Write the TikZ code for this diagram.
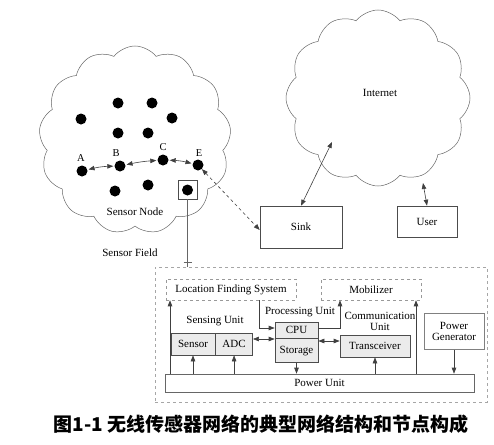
\documentclass[tikz,border=0pt]{standalone}
\usepackage{fontspec}
\setmainfont{Liberation Serif}
\newfontfamily\cjk{Noto Sans CJK SC}
\usetikzlibrary{shapes.symbols,arrows.meta}
\tikzset{
  ln/.style={draw=black!75, line width=0.6pt},
  tipend/.style={ln, -{Triangle[length=6pt,width=4.5pt]}},
  dbl/.style={ln, {Triangle[length=6pt,width=4.5pt]}-{Triangle[length=6pt,width=4.5pt]}},
  sdot/.style={circle, fill=black, inner sep=0pt, minimum size=11pt},
  dlabel/.style={font=\fontsize{10.5}{10}\selectfont, inner sep=0pt},
  lbl/.style={font=\fontsize{11}{11.5}\selectfont, inner sep=0pt, align=center},
  cloudy/.style={cloud, cloud puffs=13, cloud puff arc=105, aspect=1, draw=black!60, line width=0.5pt, inner sep=0pt},
  plainbox/.style={draw=black!70, line width=0.6pt, inner sep=0pt, font=\fontsize{11}{11.5}\selectfont},
  unitbox/.style={plainbox, fill=black!8},
  dbox/.style={draw=black!40, dashed, line width=0.5pt, inner sep=0pt, font=\fontsize{11}{11.5}\selectfont},
}
\begin{document}
\begin{tikzpicture}[x=1pt,y=-1pt]
\useasboundingbox (0,0) rectangle (494,444);

% clouds
\node[cloudy, minimum width=192pt, minimum height=188pt] (field) at (135,140) {};
\node[cloudy, cloud puffs=12, shape border rotate=10, minimum width=184pt, minimum height=176pt] (inet) at (378,98) {};
\node[lbl] (inetlbl) at (380,93) {Internet};

% sensor nodes
\node[sdot] (d1) at (118,103) {};
\node[sdot] (d2) at (152,103) {};
\node[sdot] (d3) at (81,119) {};
\node[sdot] (d4) at (172,118) {};
\node[sdot] (d5) at (118,133) {};
\node[sdot] (d6) at (148,133) {};
\node[sdot] (A) at (82,171) {};
\node[sdot] (B) at (120,166) {};
\node[sdot] (C) at (163,160) {};
\node[sdot] (E) at (198,165) {};
\node[sdot] (d7) at (115,191) {};
\node[sdot] (d8) at (148,185) {};
\node[draw=black!70, line width=0.6pt, minimum size=19pt, inner sep=0pt] (sel) at (187.5,189.5) {};
\node[sdot] (d9) at (187.5,190) {};

\node[dlabel] (la) at (81,158) {A};
\node[dlabel] (lb) at (116,153) {B};
\node[dlabel] (lc) at (163,147) {C};
\node[dlabel] (le) at (199,153) {E};

\draw[dbl, shorten <=1pt, shorten >=1pt] (A) to[bend left=6] (B);
\draw[dbl, shorten <=1pt, shorten >=1pt] (B) to[bend left=4] (C);
\draw[dbl, shorten <=1pt, shorten >=1pt] (C) to[bend left=6] (E);

\node[lbl] (sn) at (135,212) {Sensor Node};
\node[lbl] (sf) at (130,253) {Sensor Field};

% sink and user
\node[plainbox, minimum width=82pt, minimum height=42pt] (sink) at (301,227) {Sink};
\node[plainbox, minimum width=60pt, minimum height=31pt] (user) at (427,221.5) {User};
\coordinate (inetS) at (332,142);
\coordinate (inetU) at (423,183);
\draw[dbl] (sink.north) -- (inetS);
\draw[dbl] (user.north) -- (inetU);
\draw[dbl, dashed] (E) -- ([yshift=-3pt]sink.west);

% node architecture
\node[dbox, draw=black!35, minimum width=332pt, minimum height=135pt] (outer) at (321,334.5) {};
\coordinate (selx) at (187.5,0);
\draw[ln, draw=black!60] (sel.south) -- (outer.north -| selx);
\draw[ln, draw=black!60] (183.5,262) -- (191.5,262);

\node[dbox, minimum width=130pt, minimum height=21pt] (lfs) at (231,289.5) {Location Finding System};
\node[dbox, minimum width=100pt, minimum height=21pt] (mob) at (371,289.5) {Mobilizer};

\node[unitbox, minimum width=44pt, minimum height=22pt] (sensor) at (193,344) {Sensor};
\node[unitbox, minimum width=37pt, minimum height=22pt, anchor=west] (adc) at (sensor.east) {ADC};
\node[unitbox, minimum width=43pt, minimum height=16pt] (cpu) at (296.5,330) {CPU};
\node[unitbox, minimum width=43pt, minimum height=24pt, anchor=north] (stor) at (cpu.south) {Storage};
\node[unitbox, minimum width=70pt, minimum height=22pt] (trans) at (375,346) {Transceiver};
\node[plainbox, draw=black!50, minimum width=60pt, minimum height=36pt, align=center] (gen) at (454,331.5) {Power\\[-1pt]Generator};
\node[plainbox, draw=black!60, minimum width=309pt, minimum height=18pt] (pu) at (319.5,383) {Power Unit};

\node[lbl] (su) at (215,321) {Sensing Unit};
\node[lbl] (pul) at (300,312) {Processing Unit};
\node[lbl] (cu) at (380,321.5) {Communication\\Unit};

\coordinate (yac) at (0,339);
\coordinate (yct) at (0,341);
\draw[dbl] (adc.east |- yac) -- (cpu.west |- yac);
\draw[dbl] (stor.east |- yct) -- (trans.west |- yct);

\coordinate (xl) at (170,0);
\coordinate (xm1) at (340,0);
\coordinate (xm2) at (416,0);
\coordinate (xlc) at (259,0);
\coordinate (xcpu) at (0,328);
\draw[tipend] (pu.north -| xl) -- (lfs.south -| xl);
\draw[tipend] (pu.north -| xm2) -- (mob.south -| xm2);
\draw[tipend] (lfs.south -| xlc) |- (cpu.west |- xcpu);
\draw[tipend] (cpu.east |- xcpu) -| (mob.south -| xm1);

\draw[tipend] (pu.north -| sensor) -- (sensor.south);
\draw[tipend] (pu.north -| adc) -- (adc.south);
\draw[tipend] (pu.north -| trans) -- (trans.south);
\draw[tipend] (stor.south) -- (pu.north -| stor);
\draw[tipend] (gen.south) -- (pu.north -| gen);

% caption
\node[font=\cjk\bfseries\fontsize{19}{19}\selectfont, inner sep=0pt] (cap) at (261,424) {图1-1 无线传感器网络的典型网络结构和节点构成};
\end{tikzpicture}
\end{document}
